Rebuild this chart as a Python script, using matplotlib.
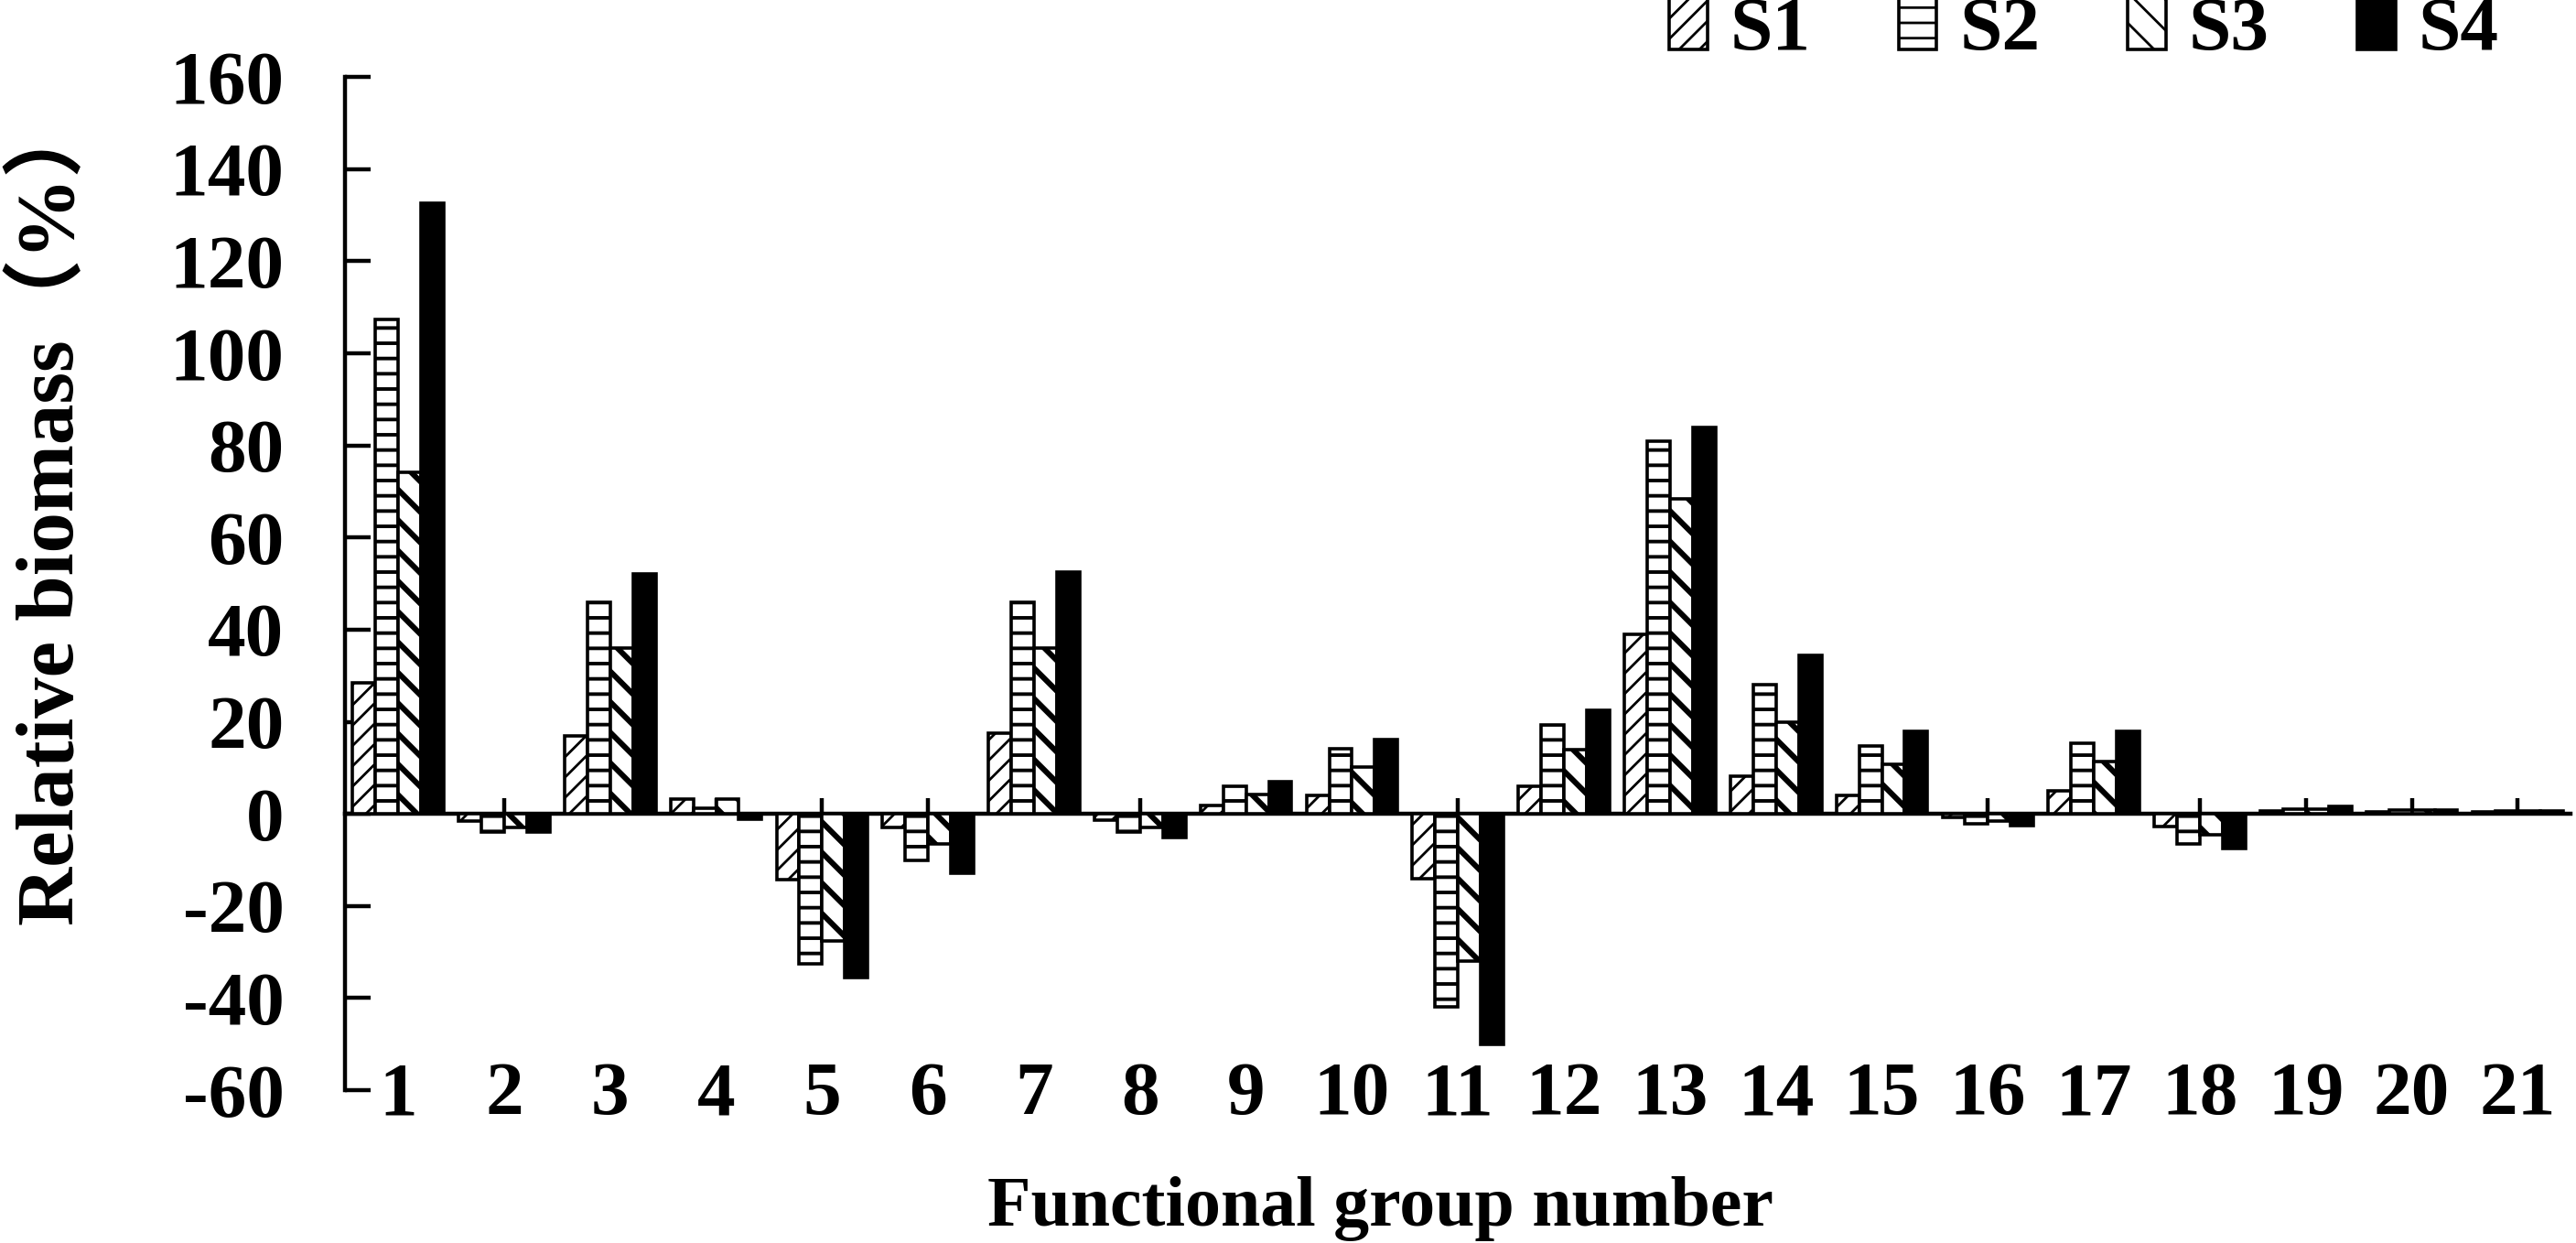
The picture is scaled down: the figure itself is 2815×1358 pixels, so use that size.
import matplotlib
matplotlib.use("Agg")
import matplotlib.pyplot as plt
from matplotlib.patches import Patch
import numpy as np

groups = list(range(1, 22))
series = ["S1", "S2", "S3", "S4"]

s1 = [28.5, -1.5, 17, 3.2, -14.2, -3, 17.5, -1.3, 1.8, 3.9, -14,
      5.9, 39, 8.1, 4, -0.7, 4.9, -2.7, 0.6, 0.5, 0.4]
s2 = [107.3, -4, 46, 1.2, -32.6, -10.2, 46, -4, 5.9, 14.2, -42,
      19.3, 81, 28.1, 14.7, -2.2, 15.3, -6.5, 1.1, 0.8, 0.7]
s3 = [74.2, -3, 36, 3.2, -27.6, -6.5, 36, -3, 4.2, 10.1, -32,
      14, 68.5, 19.9, 10.7, -1.5, 11.3, -4.5, 1.1, 0.8, 0.7]
s4 = [132.6, -4, 52.2, -1.1, -35.6, -12.9, 52.5, -5.2, 7, 16.2, -50,
      22.4, 84, 34.4, 17.9, -2.5, 18, -7.5, 1.7, 0.8, 0.7]

y_ticks = list(range(-60, 161, 20))

plt.rcParams["font.family"] = ["Liberation Serif", "Noto Sans CJK SC"]
plt.rcParams["font.weight"] = "bold"
plt.rcParams["axes.unicode_minus"] = False
plt.rcParams["hatch.color"] = "black"

fig = plt.figure(figsize=(14.075, 6.79), dpi=200)
ax = fig.add_axes([0.134, 0.123, 0.864, 0.815])

hatches = ["///", "--", "\\\\", ""]
hatch_lw = [1.0, 1.4, 2.2, 1.0]
faces = ["white", "white", "white", "black"]
values = [s1, s2, s3, s4]
bar_w = 0.215
x = np.array(groups, dtype=float)

for k, (vals, h, fc) in enumerate(zip(values, hatches, faces)):
    with plt.rc_context({"hatch.linewidth": hatch_lw[k]}):
        ax.bar(x + (k - 1.5) * bar_w, vals, bar_w, facecolor=fc,
               edgecolor="black", hatch=h, linewidth=1.3, zorder=3)

ax.set_xlim(0.5, 21.5)
ax.set_ylim(-60, 160)
ax.set_yticks(y_ticks)
ax.set_xticks(groups)
ax.set_xticklabels([str(g) for g in groups])

for side in ["top", "right", "bottom"]:
    ax.spines[side].set_visible(False)
ax.spines["left"].set_linewidth(1.6)

ax.tick_params(axis="y", direction="in", length=10, width=1.6,
               labelsize=30, pad=24)
ax.tick_params(axis="x", length=0, labelsize=30, pad=-11)

# zero line acting as category axis
sec = ax.secondary_xaxis(0, transform=ax.transData)
sec.set_xticks(groups)
sec.set_xticklabels([])
sec.tick_params(axis="x", direction="in", length=6, width=1.6)
sec.spines["bottom"].set_linewidth(1.6)
sec.set_zorder(1)

ax.set_ylabel("Relative biomass（%）", fontsize=32, fontweight="bold",
              va="center")
ax.yaxis.set_label_coords(-0.132, 0.572)
ax.set_xlabel("Functional group number", fontsize=28, fontweight="bold",
              va="center")
ax.xaxis.set_label_coords(0.465, -0.117)

handles = []
for h, fc, lw in zip(hatches, faces, hatch_lw):
    with plt.rc_context({"hatch.linewidth": lw}):
        handles.append(Patch(facecolor=fc, edgecolor="black", hatch=h,
                             linewidth=1.3))
fig.legend(handles, series, loc="center", bbox_to_anchor=(0.809, 0.975),
           ncol=4, frameon=False, fontsize=30, handlelength=0.5,
           handleheight=0.7, handletextpad=0.3, columnspacing=1.15)

fig.savefig("out.png", dpi=200, facecolor="white")
